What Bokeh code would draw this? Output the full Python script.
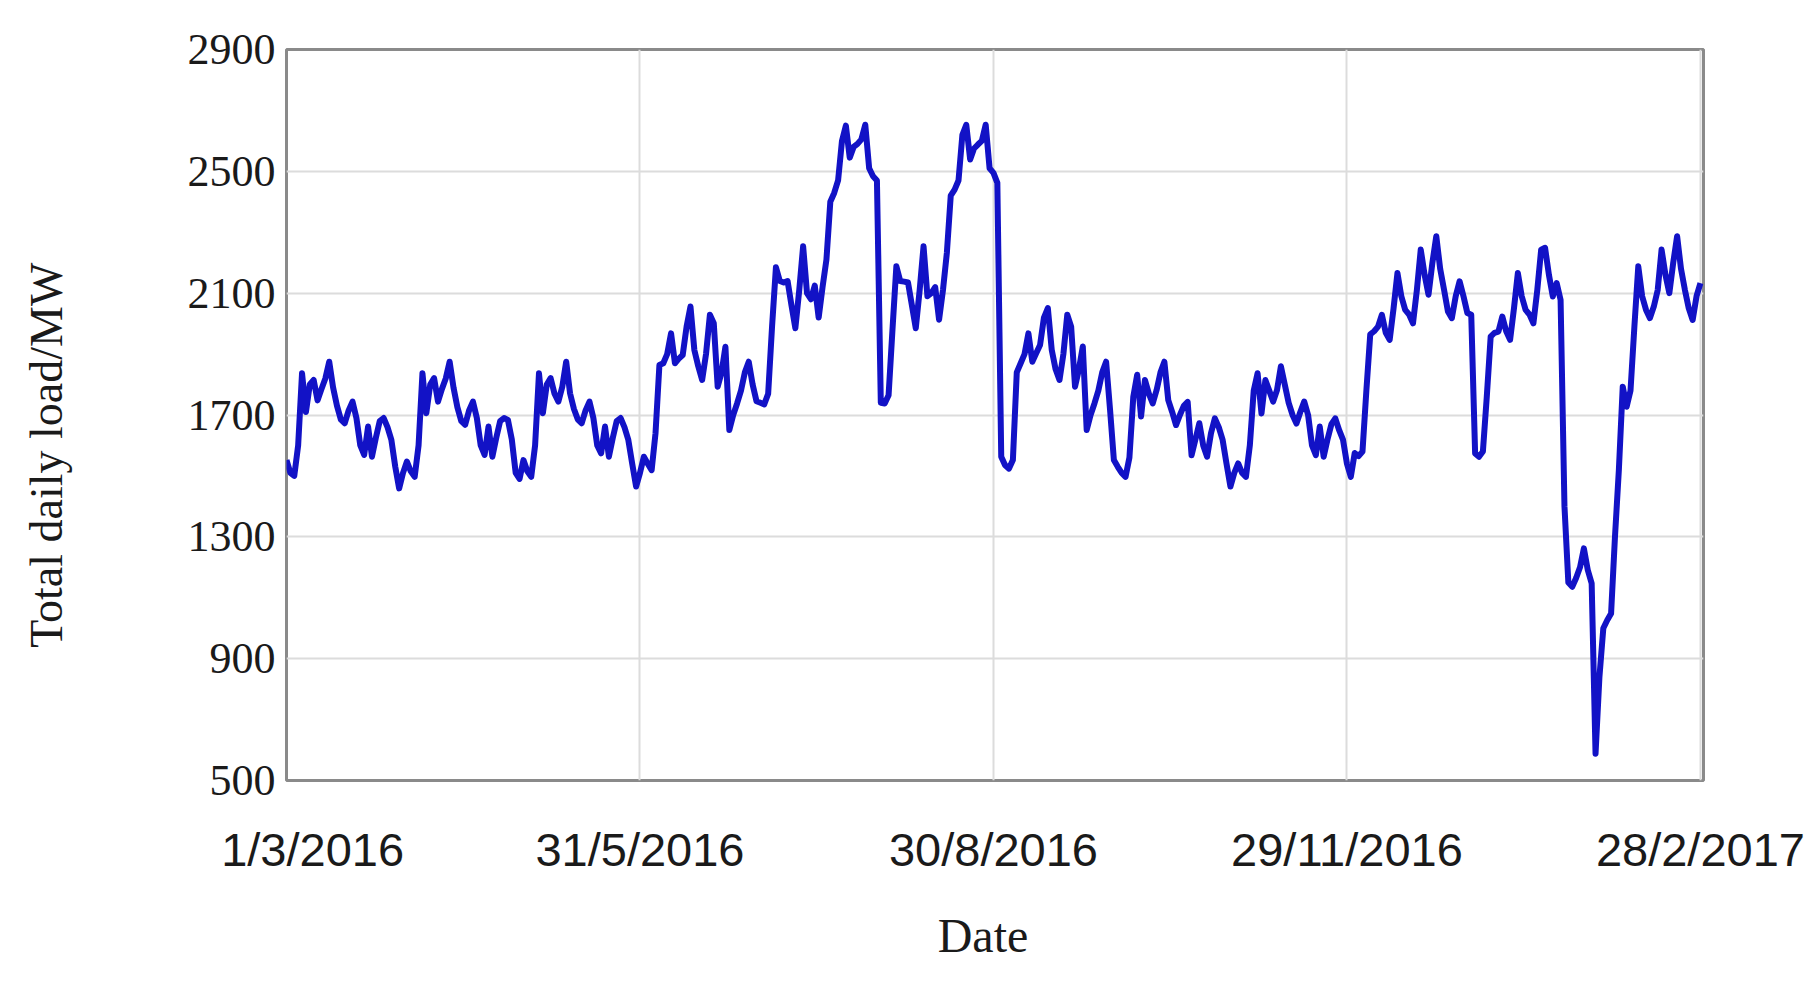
import pandas as pd
from bokeh.plotting import figure
from bokeh.models import Range1d, FixedTicker
from bokeh.embed import file_html
from bokeh.resources import INLINE

# Total daily load (MW), one list per month
mar = [1552, 1510, 1500, 1600, 1837, 1710, 1800, 1815, 1748, 1785, 1820, 1875, 1790, 1730, 1685, 1673,
       1715, 1744, 1690, 1600, 1569, 1662, 1563, 1625, 1680, 1690, 1660, 1618, 1530, 1459, 1510]
apr = [1547, 1515, 1497, 1600, 1837, 1706, 1800, 1821, 1744, 1785, 1820, 1875, 1790, 1725, 1680,
       1668, 1715, 1744, 1690, 1600, 1569, 1662, 1563, 1625, 1680, 1690, 1684, 1620, 1510, 1490]
may = [1552, 1515, 1497, 1600, 1837, 1706, 1800, 1821, 1770, 1744, 1793, 1875, 1771, 1720, 1685, 1673,
       1715, 1744, 1690, 1600, 1574, 1662, 1563, 1625, 1680, 1690, 1660, 1618, 1540, 1465, 1510]
jun = [1563, 1540, 1519, 1640, 1864, 1870, 1900, 1968, 1870, 1885, 1897, 1990, 2056, 1913, 1860,
       1815, 1900, 2029, 2001, 1793, 1840, 1924, 1651, 1700, 1738, 1780, 1840, 1875, 1800, 1745]
jul = [1740, 1735, 1770, 1990, 2185, 2140, 2135, 2140, 2060, 1985, 2110, 2254, 2100, 2080, 2125, 2020,
       2120, 2210, 2400, 2429, 2470, 2600, 2650, 2545, 2580, 2590, 2605, 2653, 2510, 2484, 2470]
aug = [1740, 1738, 1765, 1980, 2188, 2140, 2138, 2135, 2060, 1985, 2110, 2254, 2090, 2100, 2120, 2013,
       2110, 2232, 2420, 2440, 2470, 2620, 2653, 2539, 2575, 2588, 2600, 2653, 2510, 2495, 2462]
sep = [1563, 1535, 1524, 1552, 1840, 1870, 1900, 1968, 1875, 1903, 1930, 2020, 2051, 1914, 1850,
       1815, 1900, 2029, 1990, 1793, 1850, 1925, 1651, 1700, 1738, 1780, 1840, 1875, 1720, 1552]
oct_ = [1530, 1510, 1497, 1560, 1760, 1832, 1695, 1815, 1770, 1738, 1782, 1840, 1875, 1749, 1710, 1667,
        1700, 1730, 1743, 1568, 1620, 1673, 1600, 1563, 1640, 1689, 1660, 1618, 1540, 1465, 1510]
nov = [1541, 1510, 1497, 1600, 1780, 1837, 1705, 1815, 1780, 1744, 1782, 1860, 1800, 1740, 1700,
       1672, 1710, 1744, 1700, 1600, 1568, 1662, 1563, 1620, 1670, 1689, 1650, 1618, 1540, 1497]
dec = [1575, 1565, 1580, 1780, 1965, 1975, 1990, 2029, 1970, 1947, 2050, 2166, 2090, 2045, 2030, 2001,
       2110, 2243, 2160, 2095, 2200, 2287, 2180, 2111, 2040, 2018, 2090, 2139, 2090, 2035, 2029]
jan = [1574, 1563, 1580, 1760, 1957, 1970, 1974, 2023, 1975, 1947, 2050, 2166, 2090, 2045, 2030, 2001,
       2110, 2243, 2249, 2160, 2089, 2133, 2078, 1400, 1150, 1136, 1165, 1200, 1262, 1191, 1147]
feb = [588, 840, 1000, 1026, 1048, 1300, 1519, 1793, 1727, 1780, 1990, 2188, 2090, 2045, 2018, 2056,
       2110, 2243, 2160, 2100, 2200, 2287, 2180, 2111, 2050, 2012, 2090, 2133]

load = mar + apr + may + jun + jul + aug + sep + oct_ + nov + dec + jan + feb
dates = pd.date_range("2016-03-01", periods=len(load), freq="D")

x_tick_labels = ["1/3/2016", "31/5/2016", "30/8/2016", "29/11/2016", "28/2/2017"]
y_ticks = [500, 900, 1300, 1700, 2100, 2500, 2900]

tick_ts = pd.to_datetime(x_tick_labels, format="%d/%m/%Y")
tick_ms = [float((t - pd.Timestamp("1970-01-01")).total_seconds() * 1000.0) for t in tick_ts]

NBSP = "\u00a0"
# the first date label sits to the right of its tick in the original
shown_labels = [NBSP * 4 + x_tick_labels[0]] + x_tick_labels[1:]

p = figure(
    width=1812, height=976,
    x_axis_type="datetime",
    x_range=Range1d(start=pd.Timestamp("2016-03-01"), end=pd.Timestamp("2017-02-28 19:00")),
    y_range=Range1d(start=500, end=2900),
    output_backend="svg", toolbar_location=None,
    min_border_left=286, min_border_right=109, min_border_top=49, min_border_bottom=196,
)
p.background_fill_color = "white"
p.border_fill_color = "white"
p.outline_line_color = "#8a8a8a"
p.outline_line_width = 3

p.line(dates, load, line_color="#1212c6", line_width=6, line_join="round")

# x axis
xa = p.xaxis[0]
xa.ticker = FixedTicker(ticks=tick_ms)
xa.major_label_overrides = {ms: lab for ms, lab in zip(tick_ms, shown_labels)}
xa.axis_label = "Date" + NBSP * 2
xa.axis_label_text_font = "Liberation Serif"
xa.axis_label_text_font_size = "48px"
xa.axis_label_text_font_style = "normal"
xa.axis_label_text_color = "#1a1a1a"
xa.axis_label_standoff = 30
xa.major_label_text_font = "Liberation Sans"
xa.major_label_text_font_size = "47px"
xa.major_label_text_color = "#1a1a1a"
xa.major_label_standoff = 36
xa.axis_line_color = None
xa.major_tick_line_color = None
xa.minor_tick_line_color = None

# y axis
ya = p.yaxis[0]
ya.ticker = FixedTicker(ticks=y_ticks)
ya.axis_label = "Total daily load/MW" + NBSP * 7
ya.axis_label_text_font = "Liberation Serif"
ya.axis_label_text_font_size = "46px"
ya.axis_label_text_font_style = "normal"
ya.axis_label_text_color = "#1a1a1a"
ya.axis_label_standoff = 113
ya.major_label_text_font = "Liberation Serif"
ya.major_label_text_font_size = "44px"
ya.major_label_text_color = "#1a1a1a"
ya.major_label_standoff = 5
ya.axis_line_color = None
ya.major_tick_line_color = None
ya.minor_tick_line_color = None

p.xgrid.grid_line_color = "#dcdcdc"
p.xgrid.grid_line_width = 2
p.ygrid.grid_line_color = "#dcdcdc"
p.ygrid.grid_line_width = 2

open("out.html", "w").write(file_html(p, INLINE))
